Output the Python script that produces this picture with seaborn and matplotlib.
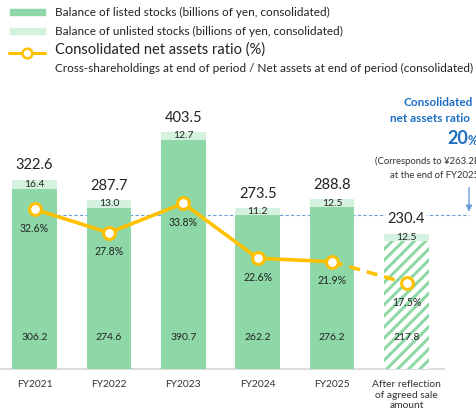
import matplotlib
matplotlib.use("Agg")
import matplotlib.pyplot as plt
from matplotlib.patches import Rectangle
from matplotlib.lines import Line2D
import seaborn as sns
import pandas as pd

# ---- data -------------------------------------------------------------
categories = ["FY2021", "FY2022", "FY2023", "FY2024", "FY2025",
              "After reflection\nof agreed sale\namount"]
listed = [306.2, 274.6, 390.7, 262.2, 276.2, 217.8]
unlisted = [16.4, 13.0, 12.7, 11.2, 12.5, 12.5]
totals = [322.6, 287.7, 403.5, 273.5, 288.8, 230.4]
ratio = [32.6, 27.8, 33.8, 22.6, 21.9, 17.5]
target_balance = 263.2

df = pd.DataFrame({"category": categories, "listed": listed,
                   "unlisted": unlisted, "total": totals, "ratio": ratio})

# ---- style ------------------------------------------------------------
sns.set_theme(style="white")
plt.rcParams["font.family"] = ["Lato", "DejaVu Sans"]
plt.rcParams["hatch.linewidth"] = 2.2

GREEN = "#8ed8a7"
LIGHT = "#d5f1df"
GOLD = "#ffc000"
BLUE = "#1c6fc2"
DOTBLUE = "#6a9fd8"
TXT = "#222222"

W, H = 476, 415
fig = plt.figure(figsize=(W / 100, H / 100), dpi=100)


def fx(x):
    return x / W


def fy(y):
    return 1 - y / H


# axes: baseline at y=369 px, spans x 0..444 px
ax = fig.add_axes([0, fy(369), fx(444), (369 - 90) / H])

sns.barplot(data=df, x="category", y="total", color=LIGHT, width=0.6,
            linewidth=0, saturation=1, ax=ax, zorder=2)
sns.barplot(data=df, x="category", y="listed", color=GREEN, width=0.6,
            linewidth=0, saturation=1, ax=ax, zorder=3)

# last listed bar: white with diagonal green stripes
n = len(categories)
listed_bars = ax.patches[n:]
last = listed_bars[-1]
last.set_facecolor("white")
last.set_edgecolor(GREEN)
last.set_hatch("///")
last.set_linewidth(0)

px_per_unit = 0.587
ax.set_xlim(-0.464, 5.504)
ax.set_ylim(0, 279 / px_per_unit)
ax.set_xlabel("")
ax.set_ylabel("")
ax.set_yticks([])
ax.tick_params(axis="x", length=0, pad=8, labelsize=7.4, labelcolor="#333333")
for s in ["top", "left", "right"]:
    ax.spines[s].set_visible(False)
ax.spines["bottom"].set_color("#d9d9d9")
ax.spines["bottom"].set_linewidth(1.3)

# reference level line
ax.hlines(target_balance, 0, 5.84, colors=DOTBLUE, linestyles=(0, (3, 2)),
          linewidth=0.8, zorder=1, clip_on=False)

for i in range(n):
    ax.annotate(f"{totals[i]:.1f}", (i, totals[i]), xytext=(0, 10.5),
                textcoords="offset points", ha="center", va="center",
                fontsize=10.5, color=TXT, zorder=5,
                bbox=dict(boxstyle="square,pad=0.15", fc="white", ec="none")
                if i == n - 1 else None)
    ax.text(i, listed[i] + unlisted[i] / 2, f"{unlisted[i]:.1f}",
            ha="center", va="center", fontsize=7.5, color=TXT, zorder=5)
    ax.annotate(f"{listed[i]:.1f}", (i, 0), xytext=(0, 22.5),
                textcoords="offset points", ha="center", va="center",
                fontsize=7.5, color=TXT, zorder=5)

# ratio line on a secondary scale
ax2 = ax.twinx()
ax2.set_ylim(0, 279 / 4.9)
ax2.set_yticks([])
for s in ax2.spines.values():
    s.set_visible(False)
xs = list(range(n))
sns.lineplot(x=xs[:5], y=ratio[:5], color=GOLD, linewidth=2.6, ax=ax2,
             zorder=4)
sns.lineplot(x=xs[4:], y=ratio[4:], color=GOLD, linewidth=2.6, ax=ax2,
             linestyle=(0, (3, 2)), zorder=4)
ax2.plot(xs, ratio, linestyle="none", marker="o", markersize=8.5,
         markerfacecolor="white", markeredgecolor=GOLD, markeredgewidth=2.2,
         zorder=6)
for i in range(n):
    ax2.annotate(f"{ratio[i]:.1f}%", (i, ratio[i]), xytext=(0, -13.7),
                 textcoords="offset points", ha="center", va="center",
                 fontsize=7.6, color=TXT, zorder=7)

# ---- legend -----------------------------------------------------------
fig.add_artist(Rectangle((fx(10), fy(15)), fx(35), 6 / H, color=GREEN,
                         transform=fig.transFigure))
fig.add_artist(Rectangle((fx(10), fy(34)), fx(35), 6 / H, color=LIGHT,
                         transform=fig.transFigure))
fig.add_artist(Line2D([fx(9), fx(45)], [fy(53), fy(53)], color=GOLD,
                      linewidth=2.2, transform=fig.transFigure))
fig.add_artist(Line2D([fx(27)], [fy(53)], marker="o", markersize=7,
                      markerfacecolor="white", markeredgecolor=GOLD,
                      markeredgewidth=1.8, transform=fig.transFigure))
fig.text(fx(55), fy(12), "Balance of listed stocks (billions of yen, consolidated)",
         fontsize=8.5, color=TXT, va="center")
fig.text(fx(55), fy(31), "Balance of unlisted stocks (billions of yen, consolidated)",
         fontsize=8.5, color=TXT, va="center")
fig.text(fx(55), fy(50), "Consolidated net assets ratio (%)",
         fontsize=10.5, color=TXT, va="center")
fig.text(fx(55), fy(68),
         "Cross-shareholdings at end of period / Net assets at end of period (consolidated)",
         fontsize=8.45, color=TXT, va="center")

# ---- target note ------------------------------------------------------
fig.text(fx(403), fy(103), "Consolidated", fontsize=8.5, fontweight="bold",
         color=BLUE, va="center")
fig.text(fx(390), fy(119), "net assets ratio", fontsize=8.5, fontweight="bold",
         color=BLUE, va="center")
fig.text(fx(447), fy(139), "20", fontsize=13, fontweight="bold",
         color=BLUE, va="center")
fig.text(fx(468), fy(141), "%", fontsize=9, fontweight="bold",
         color=BLUE, va="center")
fig.text(fx(375), fy(161), "(Corresponds to \u00a5263.2B", fontsize=6.8,
         color="#333333", va="center")
fig.text(fx(390), fy(175), "at the end of FY2025", fontsize=6.8,
         color="#333333", va="center")
ax.annotate("", xy=(fx(469), target_balance), xycoords=("figure fraction", "data"),
            xytext=(fx(469), fy(185)), textcoords="figure fraction",
            arrowprops=dict(arrowstyle="-|>", color=DOTBLUE, lw=1,
                            mutation_scale=9), annotation_clip=False)

fig.savefig("out.png", dpi=100)
